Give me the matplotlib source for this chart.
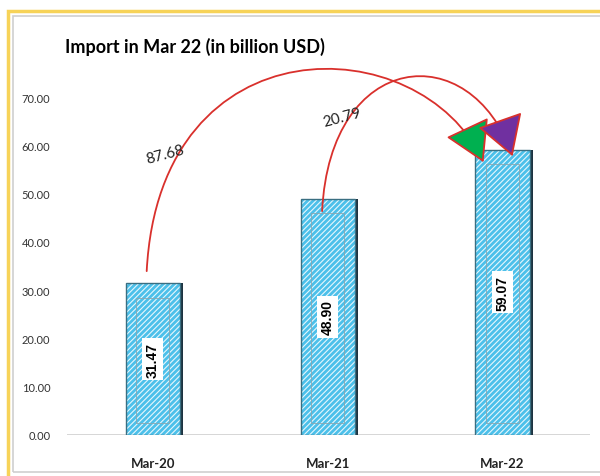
import matplotlib
matplotlib.use("Agg")
import matplotlib.pyplot as plt
from matplotlib.patches import Rectangle, FancyArrowPatch
from matplotlib.path import Path
import matplotlib as mpl

categories = ["Mar-20", "Mar-21", "Mar-22"]
values = [31.47, 48.90, 59.07]
growth_labels = ["87.68", "20.79"]
yticks = [0, 10, 20, 30, 40, 50, 60, 70]
title = "Import in Mar 22 (in billion USD)"

plt.rcParams['font.family'] = ['Lato', 'DejaVu Sans']
mpl.rcParams['hatch.linewidth'] = 0.8

W, H = 600, 477
fig = plt.figure(figsize=(W / 100, H / 100), dpi=100)

# frame borders
fig.add_artist(Rectangle((8 / W, -0.05), 1.2, 1 - 12 / H + 0.05, transform=fig.transFigure,
                         fill=False, edgecolor='#f7d358', linewidth=2.5))
fig.add_artist(Rectangle((13 / W, 4 / H), 1.2, 1 - 21 / H, transform=fig.transFigure,
                         fill=False, edgecolor='#cfcfcf', linewidth=1.2))

ax = fig.add_axes([67 / W, 1 - 436 / H, (590 - 67) / W, (436 - 74) / H])
ax.set_xlim(-0.49, 2.5)
ax.set_ylim(0, 75)
for s in ax.spines.values():
    s.set_visible(False)
ax.axhline(0, color='#d0d0d0', linewidth=1.2, zorder=1)

x = list(range(len(categories)))
bw = 0.31
# shadow
ax.bar([xi + 0.018 for xi in x], values, width=bw, color='#1d3340', zorder=2)
ax.bar(x, values, width=bw, color='#4cc0ea', hatch='//////',
       edgecolor='#e6f7fd', linewidth=0, zorder=3)
ax.bar(x, values, width=bw, fill=False, edgecolor='#3a6f82', linewidth=1.0, zorder=4)
for xi, v in zip(x, values):
    ax.add_patch(Rectangle((xi - bw / 2 + 0.06, 2.5), bw - 0.12, v - 5.5, fill=False,
                           edgecolor='#8aa6b0', linewidth=0.6, zorder=4))
    ax.text(xi, v / 2, f"{v:.2f}", rotation=90, ha='center', va='center',
            fontsize=10, fontweight='bold', zorder=6, family=['Liberation Sans'],
            bbox=dict(facecolor='white', edgecolor='none', pad=2.5))

ax.set_yticks(yticks)
ax.set_yticklabels([f"{t:.2f}" for t in yticks], fontsize=8, color='#333333')
ax.tick_params(axis='y', length=0, pad=12)
ax.set_xticks(x)
ax.set_xticklabels(categories, fontsize=9.5, fontweight='bold', color='#222222')
ax.tick_params(axis='x', length=0, pad=16)

fig.text(65 / W, 1 - 47 / H, title, fontsize=13, fontweight='bold', va='center', ha='left')

# curved growth arrows
def px(p):
    return ((p[0] - 153) / 174.5, (436 - p[1]) / 4.83)

arcs = [
    ([(147, 272), (160, 20), (420, 28), (483, 163)], '#00b050'),
    ([(322, 212), (330, 50), (470, 37), (512, 157)], '#7030a0'),
]
for pts, fc in arcs:
    verts = [px(p) for p in pts]
    path = Path(verts, [Path.MOVETO, Path.CURVE4, Path.CURVE4, Path.CURVE4])
    arr = FancyArrowPatch(path=path, arrowstyle='-|>,head_length=1.6,head_width=0.95',
                          mutation_scale=16, facecolor=fc, edgecolor='#d9302c',
                          linewidth=1.3, transform=ax.transData, zorder=7, clip_on=False)
    ax.add_patch(arr)

for lbl, p in zip(growth_labels, [(165, 155), (342, 118)]):
    d = px(p)
    ax.text(d[0], d[1], lbl, fontsize=11, rotation=15, ha='center', va='center',
            color='#222222', zorder=8)

fig.savefig("out.png", dpi=100)
